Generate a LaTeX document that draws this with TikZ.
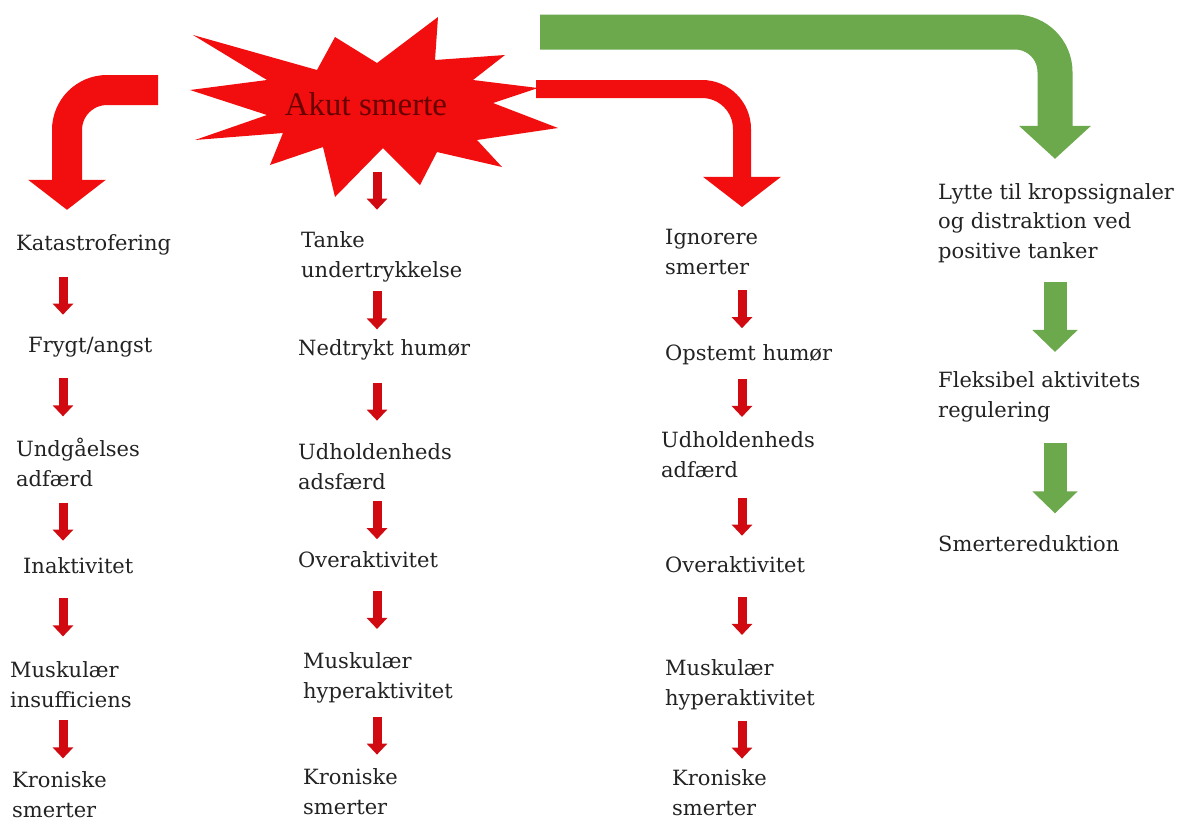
\documentclass[tikz,border=0pt]{standalone}
\usepackage{fontspec}
\setmainfont{DejaVu Serif}
\newfontfamily\starfont{Liberation Serif}
\usetikzlibrary{calc,positioning,arrows.meta}
\tikzset{>=stealth}
\definecolor{bright}{RGB}{242,14,14}
\definecolor{darkred}{RGB}{208,10,16}
\definecolor{okgreen}{RGB}{108,168,76}
\definecolor{wine}{RGB}{105,0,0}
\definecolor{ink}{RGB}{34,34,34}
\tikzset{
  lbl/.style={anchor=base west,inner sep=0pt,align=left,text=ink,font=\fontsize{21}{29.5}\selectfont},
  redarr/.style={draw=darkred,line width=9pt,-{Triangle[width=20pt,length=11pt]}},
  greenarr/.style={draw=okgreen,line width=23pt,-{Triangle[width=44pt,length=22pt]}},
  bigred/.style={draw=bright,rounded corners=40pt,-{Triangle[width=76pt,length=30pt]}},
  biggreen/.style={draw=okgreen,line width=35pt,rounded corners=40pt,-{Triangle[width=70pt,length=33pt]}},
}

\begin{document}
\begin{tikzpicture}[x=1pt,y=-1pt]
\useasboundingbox (0,0) rectangle (1180,831);
\coordinate (c0) at (67,0);
\coordinate (c1) at (63,0);
\coordinate (c2) at (377,0);
\coordinate (c3) at (742,0);
\coordinate (c4) at (1055,0);
\coordinate (lt) at (158,90);
\coordinate (rt) at (536,89);
\coordinate (gt) at (540,32);
\coordinate (sb) at (377,150);
\fill[bright] (193,35) -- (317,70) -- (335,37) -- (377,63) -- (438,17) -- (435,60) -- (505,55)
  -- (473,80) -- (538,88) -- (493,103) -- (558,128) -- (477,140) -- (502,167) -- (437,152)
  -- (420,185) -- (383,148) -- (335,197) -- (323,147) -- (270,165) -- (283,133) -- (195,140)
  -- (267,115) -- (190,90) -- (267,80) -- cycle;
\node[wine,inner sep=0pt,font=\starfont\fontsize{33}{33}\selectfont] (akut) at (366,104) {Akut smerte};

\node[lbl] (k1) at (16,250) {Katastrofering};
\node[lbl] (k2) at (28,352) {Frygt/angst};
\node[lbl] (k3) at (16,486) {Undgåelses\\adfærd};
\node[lbl] (k4) at (23,573) {Inaktivitet};
\node[lbl] (k5) at (10,707) {Muskulær\\insufficiens};
\node[lbl] (k6) at (12,817) {Kroniske\\smerter};

\node[lbl] (t1) at (301,277) {Tanke\\undertrykkelse};
\node[lbl] (t2) at (298,355) {Nedtrykt humør};
\node[lbl] (t3) at (298,489) {Udholdenheds\\adsfærd};
\node[lbl] (t4) at (298,567) {Overaktivitet};
\node[lbl] (t5) at (303,698) {Muskulær\\hyperaktivitet};
\node[lbl] (t6) at (303,814) {Kroniske\\smerter};

\node[lbl] (i1) at (665,274) {Ignorere\\smerter};
\node[lbl] (i2) at (665,360) {Opstemt humør};
\node[lbl] (i3) at (661,477) {Udholdenheds\\adfærd};
\node[lbl] (i4) at (665,572) {Overaktivitet};
\node[lbl] (i5) at (665,705) {Muskulær\\hyperaktivitet};
\node[lbl] (i6) at (672,815) {Kroniske\\smerter};

\node[lbl] (l1) at (938,258) {Lytte til kropssignaler\\og distraktion ved\\positive tanker};
\node[lbl] (l2) at (938,417) {Fleksibel aktivitets\\regulering};
\node[lbl] (l3) at (938,551) {Smertereduktion};

\draw[bigred,line width=30pt,shorten >=24pt] (lt) -| (k1.north -| c0);
\draw[bigred,line width=18pt,shorten >=22pt] (rt) -| (i1.north -| c3);
\draw[biggreen,shorten >=24pt] (gt) -| (l1.north -| c4);

\draw[redarr] ($(sb)!.5!(t1.north -| c2)$) ++(0,-19) -- ++(0,38);
\foreach \a/\b in {k1/k2,k2/k3,k3/k4,k4/k5,k5/k6}
  \draw[redarr] ($(\a.south -| c1)!.5!(\b.north -| c1)$) ++(0,-19) -- ++(0,38);
\foreach \a/\b in {t1/t2,t2/t3,t3/t4,t4/t5,t5/t6}
  \draw[redarr] ($(\a.south -| c2)!.5!(\b.north -| c2)$) ++(0,-19) -- ++(0,38);
\foreach \a/\b in {i1/i2,i2/i3,i3/i4,i4/i5,i5/i6}
  \draw[redarr] ($(\a.south -| c3)!.5!(\b.north -| c3)$) ++(0,-19) -- ++(0,38);
\foreach \a/\b in {l1/l2,l2/l3}
  \draw[greenarr] ($(\a.south -| c4)!.5!(\b.north -| c4)$) ++(0,-35) -- ++(0,70);
\end{tikzpicture}
\end{document}
